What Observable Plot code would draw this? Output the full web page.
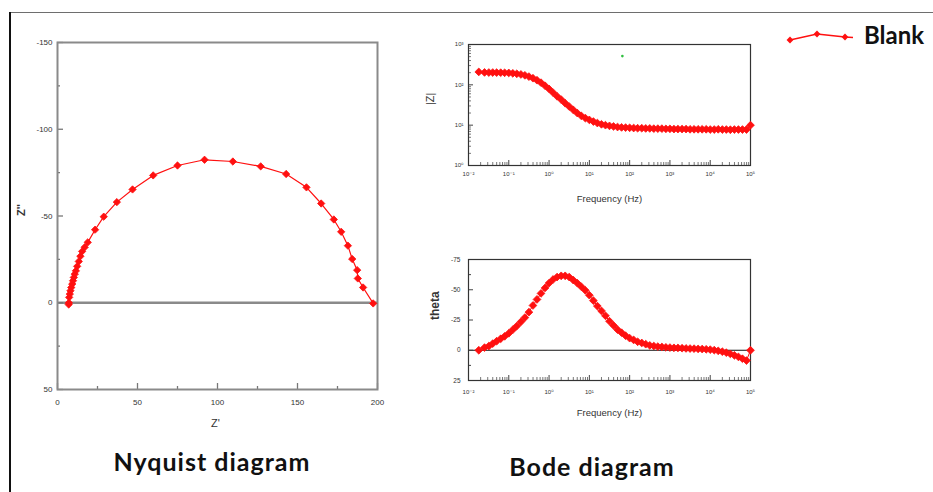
<!DOCTYPE html>
<html><head><meta charset="utf-8">
<script src="https://cdn.jsdelivr.net/npm/d3@7"></script>
<script src="https://cdn.jsdelivr.net/npm/@observablehq/plot@0.6"></script>
<style>
body{margin:0;background:#fff;}
#root{position:relative;width:933px;height:492px;overflow:hidden;background:#fff;}
#btop{position:absolute;left:9px;top:12px;width:930px;height:0;border-top:1.6px solid #6e6e6e;}
#bleft{position:absolute;left:9px;top:12px;width:0;height:490px;border-left:2px solid #111;}
svg.panel{position:absolute;overflow:visible;}
</style></head>
<body><div id="root"><div id="btop"></div><div id="bleft"></div></div>
<script>
// ---------- Nyquist data (Z', Z'') ----------
const nyqRe = [7.0, 7.1, 7.3, 7.7, 8.1, 8.6, 9.2, 9.7, 10.2, 10.8, 11.5, 12.3, 13.3, 14.3, 15.4, 17.0, 18.9, 23.5, 28.9, 37.1, 46.9, 59.8, 75.0, 91.9, 109.6, 127.0, 142.9, 155.6, 164.8, 172.7, 177.3, 181.5, 184.2, 187.3, 187.7, 191.0, 197.3];
const nyqIm = [1.0, 0.0, -3.1, -5.0, -6.9, -8.8, -10.8, -12.7, -14.6, -16.5, -18.4, -21.0, -23.8, -26.8, -29.6, -32.0, -34.8, -42.1, -49.6, -58.0, -65.3, -73.4, -79.1, -82.4, -81.4, -78.6, -74.2, -66.5, -57.2, -48.0, -40.9, -32.9, -25.2, -18.8, -14.0, -8.8, 0.4];

// ---------- Bode data ----------
const freqs = [0.018, 0.025, 0.032, 0.04, 0.05, 0.063, 0.079, 0.1, 0.126, 0.158, 0.2, 0.251, 0.316, 0.398, 0.501, 0.631, 0.794,
  1, 1.26, 1.58, 2, 2.51, 3.16, 3.98, 5.01, 6.31, 7.94, 10, 12.6, 15.8, 20, 25.1, 31.6, 39.8, 50.1, 63.1, 79.4,
  100, 126, 158, 200, 251, 316, 398, 501, 631, 794, 1000, 1260, 1580, 2000, 2510, 3160, 3980, 5010, 6310, 7940,
  10000, 12600, 15800, 20000, 25100, 31600, 39800, 50100, 63100, 79400, 100000];
const zMod = [209, 203, 202, 202, 201, 200, 199, 197, 193, 188, 181, 172, 160, 146, 130, 113, 95,
  79, 64, 52, 43, 35, 29, 24, 20, 17, 15, 13.5, 12.3, 11.3, 10.5, 10, 9.6, 9.3, 9.0, 8.8, 8.7,
  8.6, 8.5, 8.4, 8.4, 8.3, 8.3, 8.2, 8.2, 8.2, 8.1, 8.1, 8.0, 8.0, 8.0, 8.0, 7.9, 7.9, 7.9, 7.9, 7.9,
  7.8, 7.8, 7.9, 7.8, 7.8, 7.7, 7.8, 7.8, 7.8, 7.8, 10];
const theta = [0, -2.2, -3.5, -5.5, -7.5, -9.5, -11.5, -14, -17, -20, -23.5, -27, -31.5, -37, -42, -47, -51.5,
  -55.5, -58.5, -60.5, -61.5, -61.5, -60.5, -58, -55.5, -52.5, -49.5, -45.5, -41, -36.5, -32.5, -28.5, -24, -20.5, -17, -14.5, -12,
  -10, -8.5, -7, -6, -5, -4, -3.5, -3, -2.7, -2.4, -2.2, -2, -1.9, -1.7, -1.5, -1.4, -1.3, -1.1, -1.0, -0.8,
  -0.5, -0.1, 0.5, 1.2, 2, 3, 4.2, 5.5, 7, 8.5, 0];
const strayFreq = [66];
const strayZ = [515];

// ---------- ticks ----------
const nyqXTicks = [0, 50, 100, 150, 200];
const nyqXMinor = [25, 75, 125, 175];
const nyqYTicks = [-150, -100, -50, 0, 50];
const nyqYMinor = [-125, -75, -25, 25];
const bodeXTicks = [0.01, 0.1, 1, 10, 100, 1000, 10000, 100000];
const bodeXLabels = ["10\u207B\u00B2", "10\u207B\u00B9", "10\u2070", "10\u00B9", "10\u00B2", "10\u00B3", "10\u2074", "10\u2075"];
const bodeZTicks = [1, 10, 100, 1000];
const bodeZLabels = ["10\u2070", "10\u00B9", "10\u00B2", "10\u00B3"];
const thetaTicks = [-75, -50, -25, 0, 25];
const thetaMinor = [-62.5, -37.5, -12.5, 12.5];

const RED = "#ff1010";
const FONT = "Liberation Sans, Arial, DejaVu Sans, sans-serif";
const root = document.getElementById("root");

function minorLog(lo, hi) {
  const out = [];
  for (let e = lo; e < hi; e++) for (let m = 2; m <= 9; m++) out.push(m * Math.pow(10, e));
  return out;
}

function place(svg, left, top) {
  svg.classList.add("panel");
  svg.style.left = left + "px";
  svg.style.top = top + "px";
  root.appendChild(svg);
}

// ---------- Nyquist ----------
{
  const W = 400, H = 440, mL = 57, mR = 23, mT = 42, mB = 51;
  const fW = W - mL - mR, fH = H - mT - mB;
  const nyq = nyqRe.map((x, i) => ({x, y: nyqIm[i]}));
  const svg = Plot.plot({
    width: W, height: H, marginLeft: mL, marginRight: mR, marginTop: mT, marginBottom: mB,
    style: {background: "transparent", fontFamily: FONT, overflow: "visible"},
    x: {domain: [0, 200], axis: null},
    y: {domain: [50, -150], axis: null},
    marks: [
      Plot.ruleY([0], {stroke: "#8a8a8a", strokeWidth: 2.4}),
      Plot.tickX(nyqXTicks, {x: d => d, insetTop: fH - 6, stroke: "#777", strokeWidth: 1.3}),
      Plot.tickX(nyqXMinor, {x: d => d, insetTop: fH - 3, stroke: "#777", strokeWidth: 1.3}),
      Plot.tickY(nyqYTicks, {y: d => d, insetRight: fW - 6, stroke: "#777", strokeWidth: 1.3}),
      Plot.tickY(nyqYMinor, {y: d => d, insetRight: fW - 3, stroke: "#777", strokeWidth: 1.3}),
      Plot.frame({stroke: "#8a8a8a", strokeWidth: 2}),
      Plot.text(nyqXTicks, {x: d => d, text: d => String(d), frameAnchor: "bottom", dy: 15, fontSize: 8, fill: "#333"}),
      Plot.text(nyqYTicks, {y: d => d, text: d => String(d), frameAnchor: "left", dx: -5, textAnchor: "end", fontSize: 8, fill: "#333"}),
      Plot.line(nyq, {x: "x", y: "y", stroke: RED, strokeWidth: 1.2}),
      Plot.dot(nyq, {x: "x", y: "y", symbol: "diamond2", r: 3.3, fill: RED, stroke: RED, strokeWidth: 0.8}),
      Plot.text(["Z''"], {frameAnchor: "left", dx: -36, rotate: -90, fontSize: 11, fontWeight: "bold", fill: "#333"}),
      Plot.text(["Z'"], {frameAnchor: "bottom", dy: 37, dx: -2, fontSize: 11, fill: "#333"})
    ]
  });
  place(svg, 0, 0);
}

// ---------- Bode |Z| ----------
const bode = freqs.map((f, i) => ({f, z: zMod[i], t: theta[i]}));
{
  const W = 360, H = 190, mL = 58, mR = 20, mT = 14, mB = 55;
  const fW = W - mL - mR, fH = H - mT - mB;
  const svg = Plot.plot({
    width: W, height: H, marginLeft: mL, marginRight: mR, marginTop: mT, marginBottom: mB,
    style: {background: "transparent", fontFamily: FONT, overflow: "visible"},
    x: {type: "log", domain: [0.01, 100000], axis: null},
    y: {type: "log", domain: [1, 1000], axis: null},
    marks: [
      Plot.tickX(bodeXTicks, {x: d => d, insetTop: fH - 5, stroke: "#444"}),
      Plot.tickX(minorLog(-2, 5), {x: d => d, insetTop: fH - 3, stroke: "#555", strokeWidth: 0.8}),
      Plot.tickY(bodeZTicks, {y: d => d, insetRight: fW - 5, stroke: "#444"}),
      Plot.tickY(minorLog(0, 3), {y: d => d, insetRight: fW - 3, stroke: "#555", strokeWidth: 0.8}),
      Plot.frame({stroke: "#333", strokeWidth: 1.2}),
      Plot.text(bodeXTicks, {x: d => d, text: (d, i) => bodeXLabels[i], frameAnchor: "bottom", dy: 10, fontSize: 6, fill: "#333"}),
      Plot.text(bodeZTicks, {y: d => d, text: (d, i) => bodeZLabels[i], frameAnchor: "left", dx: -5, textAnchor: "end", fontSize: 6, fill: "#333"}),
      Plot.line(bode, {x: "f", y: "z", stroke: RED, strokeWidth: 1}),
      Plot.dot(bode, {x: "f", y: "z", symbol: "diamond2", r: 3.5, fill: RED, stroke: RED, strokeWidth: 0.8}),
      Plot.dot(strayFreq.map((f, i) => ({f, z: strayZ[i]})), {x: "f", y: "z", r: 1.3, fill: "#2fbf3f"}),
      Plot.text(["|Z|"], {frameAnchor: "left", dx: -38, rotate: -90, fontSize: 11, fill: "#333"}),
      Plot.text(["Frequency (Hz)"], {frameAnchor: "bottom", dy: 36, fontSize: 9.5, fill: "#333"})
    ]
  });
  place(svg, 410, 30);
}

// ---------- Bode theta ----------
{
  const W = 360, H = 190, mL = 58, mR = 20, mT = 14, mB = 55;
  const fW = W - mL - mR, fH = H - mT - mB;
  const svg = Plot.plot({
    width: W, height: H, marginLeft: mL, marginRight: mR, marginTop: mT, marginBottom: mB,
    style: {background: "transparent", fontFamily: FONT, overflow: "visible"},
    x: {type: "log", domain: [0.01, 100000], axis: null},
    y: {domain: [25, -75], axis: null},
    marks: [
      Plot.ruleY([0], {stroke: "#111", strokeWidth: 1}),
      Plot.tickX(bodeXTicks, {x: d => d, insetTop: fH - 5, stroke: "#444"}),
      Plot.tickX(minorLog(-2, 5), {x: d => d, insetTop: fH - 3, stroke: "#555", strokeWidth: 0.8}),
      Plot.tickY(thetaTicks, {y: d => d, insetRight: fW - 5, stroke: "#444"}),
      Plot.tickY(thetaMinor, {y: d => d, insetRight: fW - 3, stroke: "#444"}),
      Plot.frame({stroke: "#333", strokeWidth: 1.2}),
      Plot.text(bodeXTicks, {x: d => d, text: (d, i) => bodeXLabels[i], frameAnchor: "bottom", dy: 13, fontSize: 6, fill: "#333"}),
      Plot.text(thetaTicks, {y: d => d, text: d => String(d), frameAnchor: "left", dx: -8, textAnchor: "end", fontSize: 6.5, fill: "#333"}),
      Plot.line(bode, {x: "f", y: "t", stroke: RED, strokeWidth: 1}),
      Plot.dot(bode, {x: "f", y: "t", symbol: "diamond2", r: 3.5, fill: RED, stroke: RED, strokeWidth: 0.8}),
      Plot.text(["theta"], {frameAnchor: "left", dx: -33, rotate: -90, fontSize: 12, fontWeight: "bold", fill: "#333"}),
      Plot.text(["Frequency (Hz)"], {frameAnchor: "bottom", dy: 35, fontSize: 9.5, fill: "#333"})
    ]
  });
  place(svg, 410, 245);
}

// ---------- titles & legend ----------
{
  const svg = d3.create("svg").attr("width", 933).attr("height", 492)
    .style("position", "absolute").style("left", "0px").style("top", "0px").style("overflow", "hidden");
  const tfont = "Lato, 'Open Sans', sans-serif";
  const title = (x, y, anchor, txt, ls, size) => svg.append("text").attr("x", x).attr("y", y).attr("text-anchor", anchor)
    .attr("font-family", tfont).attr("font-weight", "bold").attr("font-size", size)
    .attr("letter-spacing", ls).attr("fill", "#111").text(txt);
  title(212, 471, "middle", "Nyquist diagram", 1, 25);
  title(592, 476, "middle", "Bode diagram", 1, 25);
  title(864, 44, "start", "Blank", 0, 24);
  const pts = [[790, 40], [817, 34], [845, 37], [853, 37.5]];
  svg.append("polyline").attr("points", pts.map(p => p.join(",")).join(" "))
    .attr("fill", "none").attr("stroke", RED).attr("stroke-width", 1.4);
  for (const p of pts.slice(0, 3)) {
    svg.append("path").attr("d", d3.symbol(d3.symbolDiamond2, 30)())
      .attr("transform", `translate(${p[0]},${p[1]})`).attr("fill", RED);
  }
  root.appendChild(svg.node());
}
</script>
</body></html>
